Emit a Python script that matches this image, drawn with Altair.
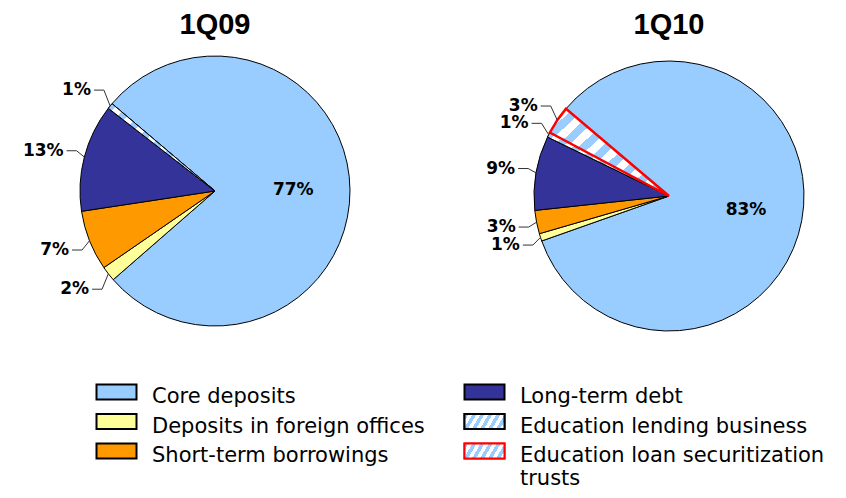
import math
import pandas as pd
import altair as alt

# ---------------- data ----------------
categories = [
    "Core deposits",
    "Deposits in foreign offices",
    "Short-term borrowings",
    "Long-term debt",
    "Education lending business",
    "Education loan securitization trusts",
]
colors = ["#99CCFF", "#FFFF99", "#FF9900", "#333399", "#FFFFFF", "#FFFFFF"]
periods = ["1Q09", "1Q10"]
share_1q09 = [77.4, 1.8, 7.2, 12.9, 0.7, 0.0]
share_1q10 = [83.4, 0.9, 2.8, 8.9, 0.6, 3.4]
hatched = ["Education lending business", "Education loan securitization trusts"]
red_outline = ["Education loan securitization trusts"]

# ---------------- layout / style ----------------
W, H = 830, 482
R = 135
START = math.radians(310.3)
CX0, DX = 207, 454
CY0, DY = 183, 5
LX0, LDX = 108.5, 368
LY0, LDY = 384, 29.5
BLUE = "#99CCFF"
SYMPATH = "M-1,-0.37H1V0.37H-1Z"


def stripes(period, frac, a, b):
    stops = []
    k = 0.0
    while k < 1.0:
        e1 = min(1.0, k + period * frac)
        e2 = min(1.0, k + period)
        stops += [
            alt.GradientStop(offset=round(k, 4), color=BLUE),
            alt.GradientStop(offset=round(e1, 4), color=BLUE),
            alt.GradientStop(offset=round(e1, 4), color="#FFFFFF"),
            alt.GradientStop(offset=round(e2, 4), color="#FFFFFF"),
        ]
        k += period
    return alt.LinearGradient(gradient="linear", stops=stops, x1=0, y1=0, x2=a, y2=b)


pie_grad = stripes(0.11, 0.5, 1.1, 0.85)
leg_grad = stripes(0.16, 0.5, 1.2, 0.26)

rows = []
for pi, (p, shares) in enumerate(zip(periods, [share_1q09, share_1q10])):
    for i, (c, v) in enumerate(zip(categories, shares)):
        rows.append({"period": p, "pidx": pi, "cat": c, "order": i, "value": v})
pie_df = pd.DataFrame(rows)
leg_df = pd.DataFrame({"cat": categories, "order": list(range(len(categories)))})
title_df = pd.DataFrame({"period": periods, "pidx": list(range(len(periods)))})

xs = alt.Scale(domain=[0, W], nice=False, zero=False)
ys = alt.Scale(domain=[0, H], nice=False, zero=False, reverse=True)
cscale = alt.Scale(domain=categories, range=colors)

base = (
    alt.Chart(pie_df)
    .transform_filter("datum.value > 0")
    .transform_joinaggregate(total="sum(value)", groupby=["period"])
    .transform_window(
        cum="sum(value)",
        groupby=["period"],
        sort=[alt.SortField("order", order="ascending")],
        frame=[None, 0],
    )
    .transform_calculate(
        t0=f"{START} + 2*PI*(datum.cum - datum.value)/datum.total",
        t1=f"{START} + 2*PI*datum.cum/datum.total",
        cx=f"{CX0} + {DX}*datum.pidx",
        cy=f"{CY0} + {DY}*datum.pidx",
    )
    .transform_calculate(m="(datum.t0 + datum.t1)/2")
    .transform_calculate(
        ex=f"datum.cx + {R}*sin(datum.m)",
        ey=f"datum.cy - {R}*cos(datum.m)",
        bx=f"datum.cx + {R + 8}*sin(datum.m)",
        by=f"datum.cy - {R + 8}*cos(datum.m)*1.12",
        ix=f"datum.cx + {0.58 * R}*sin(datum.m)",
        iy=f"datum.cy - {0.58 * R}*cos(datum.m)",
        lab="format(datum.value, '.0f') + '%'",
    )
    .transform_calculate(
        fx="datum.bx + (sin(datum.m) < 0 ? -10 : 10)",
        tx="datum.bx + (sin(datum.m) < 0 ? -13 : 13)",
    )
)

pos = dict(
    theta=alt.Theta("t0:Q", scale=None),
    theta2=alt.Theta2("t1:Q"),
    x=alt.X("cx:Q", scale=xs, axis=None),
    y=alt.Y("cy:Q", scale=ys, axis=None),
)

arcs = base.mark_arc(radius=R, stroke="#000000", strokeWidth=1).encode(
    fill=alt.Fill("cat:N", scale=cscale, legend=None), **pos
)
hatch = (
    base.transform_filter(alt.FieldOneOfPredicate(field="cat", oneOf=hatched))
    .mark_arc(radius=R, stroke="#000000", strokeWidth=1, fill=pie_grad)
    .encode(**pos)
)
redline = (
    base.transform_filter(alt.FieldOneOfPredicate(field="cat", oneOf=red_outline))
    .mark_arc(radius=R, fillOpacity=0, stroke="#FF0000", strokeWidth=2.5)
    .encode(**pos)
)

outside = base.transform_filter("datum.value < 50")
lead1 = outside.mark_rule(color="#333333", strokeWidth=1).encode(
    x=alt.X("ex:Q", scale=xs, axis=None),
    y=alt.Y("ey:Q", scale=ys, axis=None),
    x2="bx:Q",
    y2="by:Q",
)
lead2 = outside.mark_rule(color="#333333", strokeWidth=1).encode(
    x=alt.X("bx:Q", scale=xs, axis=None),
    y=alt.Y("by:Q", scale=ys, axis=None),
    x2="fx:Q",
    y2="by:Q",
)
out_text = outside.mark_text(
    align="right", baseline="middle", font="DejaVu Sans", fontWeight="bold",
    fontSize=17, color="#000000",
).encode(
    x=alt.X("tx:Q", scale=xs, axis=None),
    y=alt.Y("by:Q", scale=ys, axis=None),
    text="lab:N",
)
in_text = base.transform_filter("datum.value >= 50").mark_text(
    align="center", baseline="middle", font="DejaVu Sans", fontWeight="bold",
    fontSize=17, color="#000000",
).encode(
    x=alt.X("ix:Q", scale=xs, axis=None),
    y=alt.Y("iy:Q", scale=ys, axis=None),
    text="lab:N",
)

titles = (
    alt.Chart(title_df)
    .transform_calculate(tx=f"{CX0} + {DX}*datum.pidx")
    .mark_text(font="Liberation Sans", fontWeight="bold", fontSize=29,
               baseline="alphabetic", align="center", color="#000000")
    .encode(x=alt.X("tx:Q", scale=xs, axis=None), y=alt.value(26), text="period:N")
)

leg = (
    alt.Chart(leg_df)
    .transform_calculate(lcol="floor(datum.order/3)", lrow="datum.order % 3")
    .transform_calculate(
        lx=f"{LX0} + {LDX}*datum.lcol",
        ly=f"{LY0} + {LDY}*datum.lrow",
    )
    .transform_calculate(
        tx="datum.lx + 35.5",
        ty="datum.ly + 11",
        lab="replace(datum.cat, 'securitization ', 'securitization\\n')",
    )
)
stroke_cond = alt.condition(
    alt.FieldOneOfPredicate(field="cat", oneOf=red_outline),
    alt.value("#FF0000"),
    alt.value("#000000"),
)
leg_sym = leg.mark_point(shape=SYMPATH, size=1600, filled=True, opacity=1, strokeWidth=2).encode(
    x=alt.X("lx:Q", scale=xs, axis=None),
    y=alt.Y("ly:Q", scale=ys, axis=None),
    fill=alt.Fill("cat:N", scale=cscale, legend=None),
    stroke=stroke_cond,
)
leg_hatch = (
    leg.transform_filter(alt.FieldOneOfPredicate(field="cat", oneOf=hatched))
    .mark_point(shape=SYMPATH, size=1600, filled=True, opacity=1, strokeWidth=2, fill=leg_grad)
    .encode(
        x=alt.X("lx:Q", scale=xs, axis=None),
        y=alt.Y("ly:Q", scale=ys, axis=None),
        stroke=stroke_cond,
    )
)
leg_text = leg.mark_text(
    align="left", baseline="alphabetic", font="DejaVu Sans", fontSize=21,
    color="#000000", lineBreak="\n", lineHeight=23,
).encode(
    x=alt.X("tx:Q", scale=xs, axis=None),
    y=alt.Y("ty:Q", scale=ys, axis=None),
    text="lab:N",
)

chart = (
    alt.layer(arcs, hatch, redline, lead1, lead2, out_text, in_text, titles,
              leg_sym, leg_hatch, leg_text)
    .properties(width=W, height=H, padding=0, autosize="none", background="#FFFFFF")
    .configure_view(stroke=None)
)

chart.save("out.html", embed_options={"renderer": "svg", "actions": False})
